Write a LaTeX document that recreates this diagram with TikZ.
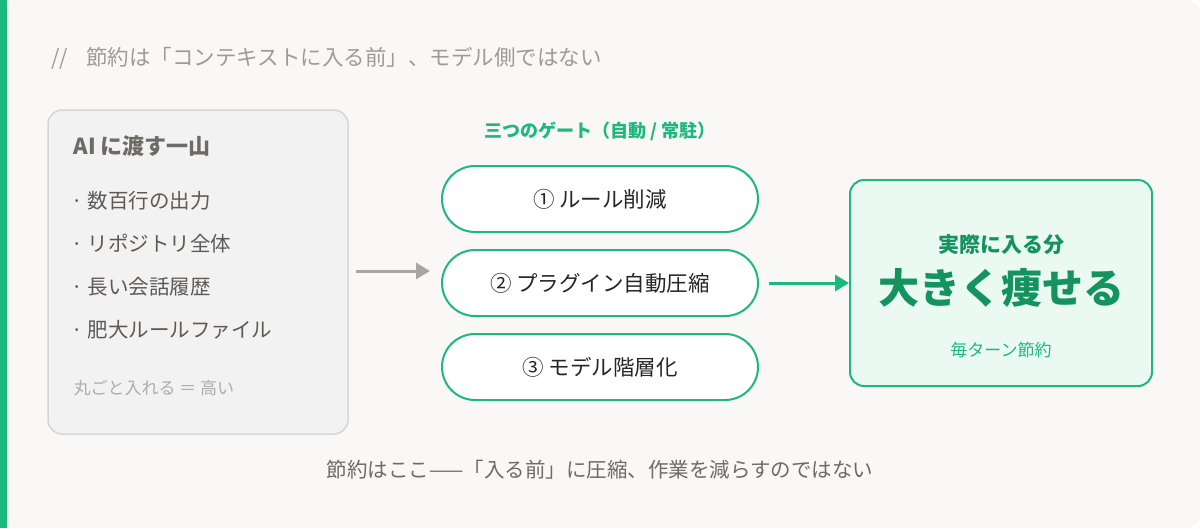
\documentclass[tikz,border=0pt]{standalone}
\usepackage{fontspec}
\setmainfont{Noto Sans CJK JP}
\usetikzlibrary{arrows.meta}
\definecolor{bg}{HTML}{F9F8F6}
\definecolor{grn}{HTML}{1DB87E}
\definecolor{dgrn}{HTML}{14935F}
\definecolor{gtxt}{HTML}{A09A95}
\definecolor{ltxt}{HTML}{5E5955}
\tikzset{
 pill/.style={draw=grn,line width=2pt,fill=white,rounded corners=33pt,minimum width=316pt,minimum height=66pt,font=\fontsize{21.5}{25}\selectfont,text=black!85},
 item/.style={anchor=west,font=\fontsize{20.5}{24}\selectfont,text=ltxt},
}
\begin{document}
\begin{tikzpicture}[x=1pt,y=-1pt]
\useasboundingbox (0,0) rectangle (1200,528);
\fill[bg,rounded corners=14pt] (0,0) rectangle (1200,528);
\fill[grn] (0,0) rectangle (7,528);
\node[anchor=west,text=gtxt,font=\fontsize{21.5}{25}\selectfont] (title) at (48,58) {//\hspace{18pt}節約は「コンテキストに入る前」、モデル側ではない};
\draw[fill=black!5,draw=black!16,line width=1.5pt,rounded corners=14pt] (48,110) rectangle (348,434);
\node[anchor=west,font=\bfseries\fontsize{22}{26}\selectfont,text=ltxt!90] (lt) at (70,146) {AI に渡す一山};
\node[item] (i1) at (68,201) {· 数百行の出力};
\node[item] (i2) at (68,244) {· リポジトリ全体};
\node[item] (i3) at (68,287) {· 長い会話履歴};
\node[item] (i4) at (68,330) {· 肥大ルールファイル};
\node[anchor=west,font=\fontsize{17}{20}\selectfont,text=black!32] (note) at (70,388) {丸ごと入れる ＝ 高い};
\coordinate (a1) at (356,271);
\coordinate (a2) at (430,271);
\draw[line width=3pt,color=black!35,-{Triangle[length=14pt,width=16pt]}] (a1) -- (a2);
\node[font=\bfseries\fontsize{18}{21}\selectfont,text=grn] (gl) at (600,131) {三つのゲート（自動 / 常駐）};
\node[pill] (p1) at (600,199) {① ルール削減};
\node[pill] (p2) at (600,283) {② プラグイン自動圧縮};
\node[pill] (p3) at (600,367) {③ モデル階層化};
\node[draw=grn,line width=2pt,fill=grn!9,rounded corners=14pt,minimum width=302pt,minimum height=206pt] (r) at (1001,283) {};
\draw[line width=3pt,color=grn,-{Triangle[length=14pt,width=16pt]}] (p2.east)++(10,0) -- (r.west);
\node[font=\bfseries\fontsize{21}{25}\selectfont,text=dgrn] at (1001,245) {実際に入る分};
\node[font=\bfseries\fontsize{41}{48}\selectfont,text=dgrn] at (1001,288) {大きく痩せる};
\node[font=\fontsize{17}{20}\selectfont,text=grn] at (1001,350) {毎ターン節約};
\node[font=\fontsize{20.5}{24}\selectfont,text=black!58] (foot) at (600,470) {節約はここ——「入る前」に圧縮、作業を減らすのではない};
\end{tikzpicture}
\end{document}
